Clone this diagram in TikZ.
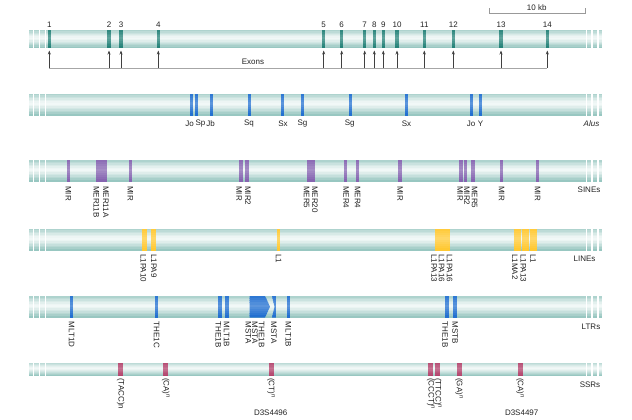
\documentclass[tikz,border=0pt]{standalone}
\usepackage{fontspec}
\setmainfont{Liberation Sans}
\usetikzlibrary{arrows.meta}
\definecolor{barEdge}{HTML}{8FC2BB}
\definecolor{exonC}{HTML}{1F7F75}
\definecolor{aluC}{HTML}{1C6CCF}
\definecolor{sineC}{HTML}{8260AE}
\definecolor{lineC}{HTML}{FFC72C}
\definecolor{ssrC}{HTML}{B03E68}
\definecolor{txt}{HTML}{222222}
% horizontal gradient band of the chromosome bar
\newcommand\barband[4]{%
  \foreach \k in {0,...,13}{%
    \pgfmathsetmacro\ya{#3+(#4-#3)*\k/14}%
    \pgfmathsetmacro\yb{min(#4,#3+(#4-#3)*(\k+1)/14+0.35)}%
    \pgfmathsetmacro\u{abs((\k+0.5)/14-0.45)/0.55}%
    \pgfmathsetmacro\p{int(12+88*\u^1.3)}%
    \fill[barEdge!\p!white] (#1,\ya) rectangle (#2,\yb);}%
}
\newcommand\chrbar[2]{%
  \barband{45.7}{586}{#1}{#2}%
  \foreach \a/\b in {29/33.3,34.3/39,40/44.7,587/591,592.7/596.7,598.7/602}{%
    \barband{\a}{\b}{#1}{#2}}%
}
% coloured element stripe, slightly lighter in the middle
\newcommand\stripe[5]{%
  \foreach \k in {0,...,9}{%
    \pgfmathsetmacro\ya{#4+(#5-#4)*\k/10}%
    \pgfmathsetmacro\yb{min(#5,#4+(#5-#4)*(\k+1)/10+0.35)}%
    \pgfmathsetmacro\u{abs((\k+0.5)/10-0.45)/0.55}%
    \pgfmathsetmacro\p{int(72+28*\u)}%
    \fill[#1!\p!white] (#2,\ya) rectangle (#3,\yb);}%
}
\begin{document}
\begin{tikzpicture}[x=1pt,y=-1pt,
  lab/.style={rotate=-90, anchor=west, inner sep=0pt, font=\fontsize{8}{9}\selectfont, text=txt},
  num/.style={inner sep=0pt, font=\fontsize{8}{9}\selectfont, text=txt},
  rowlab/.style={inner sep=0pt, font=\fontsize{8}{9}\selectfont, text=txt},
  arr/.style={draw=black!75, line width=0.6pt, -{Stealth[length=4pt,width=3pt]}},
  scale line/.style={draw=black!40, line width=0.6pt}]
\useasboundingbox (0,0) rectangle (632,420);

% ---------- exons ----------
\chrbar{30}{48}
\foreach \n/\x in {1/49.3,2/109,3/121,4/158.3,5/323.7,6/341.7,7/364.7,8/374.3,9/383.3,10/397,11/424.3,12/453.3,13/501,14/547.3}{%
  \stripe{exonC}{\x-1.6}{\x+1.6}{30}{48}
  \node[num] (n\n) at (\x,25) {\n};
  \coordinate (eb\n) at (\x,50.5);
  \coordinate (ea\n) at (\x,68);
  \draw[arr] (ea\n) -- (eb\n);
}
\draw[draw=black!35, line width=0.8pt] (ea1) -- (ea14);
\node[rowlab] (exlab) at (253,62) {Exons};

% scale bar
\coordinate (sbl) at (489,13.3);
\coordinate (sbr) at (585.5,13.3);
\coordinate (sbl2) at (489,8.3);
\coordinate (sbr2) at (585.5,8.3);
\draw[scale line] (sbl2) -- (sbl) -- (sbr) -- (sbr2);
\node[num] (kb) at (536.7,7.3) {10 kb};

% ---------- Alus ----------
\chrbar{93.5}{115.5}
\foreach \a/\b in {190/193,194.5/197.5,209.8/212.8,247.5/250.5,281.2/284.2,300.8/303.8,348.5/351.5,405.2/408.2,470.2/473.2,478.5/481.5}{%
  \stripe{aluC}{\a}{\b}{93.5}{115.5}}
\foreach \x/\t [count=\i] in {189.5/Jo,200.5/Sp,210.7/Jb,249/Sq,283/Sx,302.5/Sg,349.8/Sg,406.5/Sx,471/Jo,480.5/Y}{%
  \node[num] (alu\i) at (\x,123.3) {\t};}
\node[rowlab] (alus) at (591.5,123.3) {\itshape Alus};

% ---------- SINEs ----------
\chrbar{160}{181.5}
\foreach \a/\b in {66.8/69.8,95.7/101.7,102.3/107.3,128.6/132,239.3/243.3,245/249,306.7/310.6,311/315,344.2/347.2,355.8/358.8,398.3/401.7,459.3/463.3,464/467.3,471.3/475,500/503.4,536/539.4}{%
  \stripe{sineC}{\a}{\b}{160}{181.5}}
\foreach \x/\t [count=\i] in {68.5/MIR,96.5/MER11B,106/MER11A,130.5/MIR,239/MIR,248/MIR2,306.5/MER5,315/MER20,346/MER4,357.5/MER4,400/MIR,460/MIR,467/MIR2,474.5/MER5,501.5/MIR,537.5/MIR}{%
  \node[lab] (sine\i) at (\x,186) {\t};}
\node[rowlab] (sines) at (589,190) {SINEs};

% ---------- LINEs ----------
\chrbar{228.5}{250.5}
\foreach \a/\b in {141.7/146.7,151/156,277.3/280,435/439.8,440.2/445,445.4/450,514/521,521.5/529,529.5/536.7}{%
  \stripe{lineC}{\a}{\b}{228.5}{250.5}}
\foreach \x/\t [count=\i] in {143.3/L1PA10,154/L1PA9,278.7/L1,434/L1PA13,441.7/L1PA16,449.5/L1PA16,515/L1MA2,523.3/L1PA13,533/L1}{%
  \node[lab] (line\i) at (\x,254) {\t};}
\node[rowlab] (lines) at (584.5,259) {LINEs};

% ---------- LTRs ----------
\chrbar{296}{317.5}
\foreach \a/\b in {70.2/73.2,155.2/158.2,218.3/222.3,225/228.5,287/290,445/448.5,453.2/456.7}{%
  \stripe{aluC}{\a}{\b}{296}{317.5}}
\begin{scope}
  \clip (249.5,296) -- (265,296) -- (270,306.7) -- (265,317.5) -- (249.5,317.5) -- cycle;
  \stripe{aluC}{249}{271}{296}{317.5}
\end{scope}
\begin{scope}
  \clip (272,296) -- (276.5,296) -- (276.5,317.5) -- (272,317.5) -- (274.5,306.7) -- cycle;
  \stripe{aluC}{271.5}{277}{296}{317.5}
\end{scope}
\foreach \x/\t [count=\i] in {71.7/MLT1D,156.7/THE1C,218.3/THE1B,226.7/MLT1B,248.3/MSTA,255/MSTA,261.7/THE1B,274/MSTA,288.3/MLT1B,445/THE1B,455/MSTB}{%
  \node[lab] (ltr\i) at (\x,321.7) {\t};}
\node[rowlab] (ltrs) at (591,327) {LTRs};

% ---------- SSRs ----------
\chrbar{362.5}{376}
\foreach \a/\b in {118.3/123.3,163.3/168.3,269/274,428.3/433.3,435/440,456.7/461.7,517.7/522.7}{%
  \stripe{ssrC}{\a}{\b}{362.5}{376}}
\foreach \x/\t [count=\i] in {120.7/{(TACC)n},165.7/{(CA)\textsuperscript{n}},271/{(CT)\textsuperscript{n}},430.7/{(CCCT)\textsuperscript{n}},437.7/{(TTCC)\textsuperscript{n}},459/{(GA)\textsuperscript{n}},520/{(CA)\textsuperscript{n}}}{%
  \node[lab] (ssr\i) at (\x,378) {\t};}
\node[num] (d96) at (270.7,412.5) {D3S4496};
\node[num] (d97) at (521.7,412.5) {D3S4497};
\node[rowlab] (ssrs) at (590,384.5) {SSRs};
\end{tikzpicture}
\end{document}
